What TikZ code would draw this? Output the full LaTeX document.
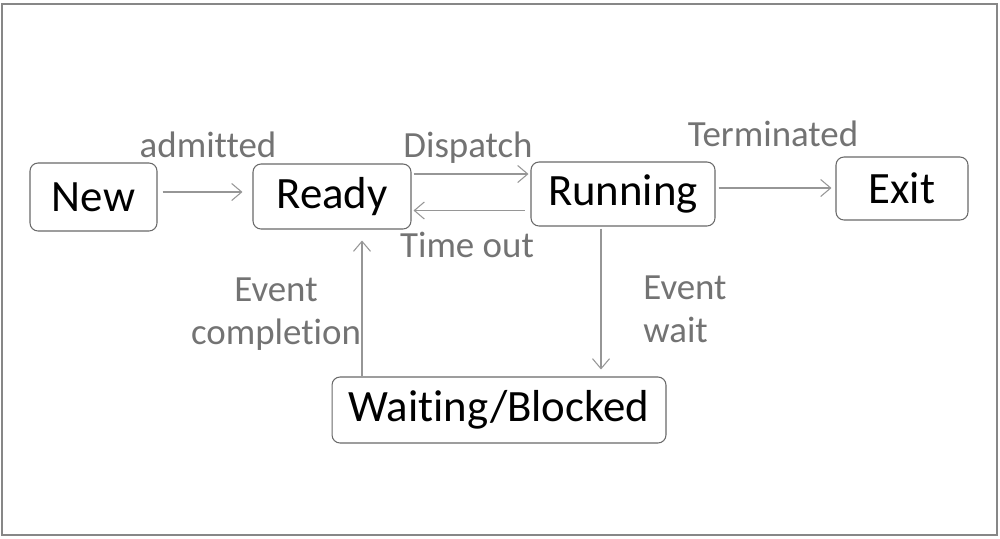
\documentclass[tikz,border=0pt]{standalone}
\usepackage{fontspec}
\setmainfont{Carlito}[Ligatures=NoCommon]
\usetikzlibrary{arrows.meta}

\definecolor{boxgray}{RGB}{105,105,105}
\definecolor{arrowgray}{RGB}{150,150,150}
\definecolor{labelgray}{RGB}{115,115,115}

\begin{document}
\begin{tikzpicture}[
    x=0.02cm, y=-0.02cm,
    state/.style={draw=boxgray, line width=0.6pt, rounded corners=0.16cm, align=center, inner sep=0pt, font=\fontsize{25.5}{29}\selectfont},
    lbl/.style={text=labelgray, align=center, inner sep=0pt, font=\fontsize{21}{24.5}\selectfont},
    arrow/.style={-{Straight Barb[length=2mm, width=3.4mm, line width=0.6pt]}, draw=arrowgray, line width=0.6pt}
]
\useasboundingbox (0,0) rectangle (1000,538);
\draw[boxgray!80, line width=1pt] (2,4) rectangle (997,535);

% states
\node[state, minimum width=2.54cm, minimum height=1.36cm] (new) at (93.5,197) {New};
\node[state, minimum width=3.16cm, minimum height=1.30cm] (ready) at (332,196.5) {Ready};
\node[state, minimum width=3.68cm, minimum height=1.28cm] (running) at (623,194) {Running};
\node[state, minimum width=2.64cm, minimum height=1.26cm] (exit) at (902,188.5) {Exit};
\node[state, minimum width=6.68cm, minimum height=1.32cm] (waiting) at (499,410) {Waiting/Blocked};

% transitions
\draw[arrow, shorten <=0.1cm, shorten >=0.2cm] ([yshift=0.1cm]new.east) -- ([yshift=0.1cm]new.east -| ready.west);
\draw[arrow, shorten <=0.04cm, shorten >=0.04cm] ([yshift=0.45cm]ready.east) -- ([yshift=0.45cm]ready.east -| running.west);
\draw[arrow, shorten <=0.12cm, shorten >=0.04cm] ([yshift=-0.28cm]ready.east -| running.west) -- ([yshift=-0.28cm]ready.east);
\draw[arrow, shorten <=0.06cm, shorten >=0.08cm] ([yshift=0.12cm]running.east) -- ([yshift=0.12cm]running.east -| exit.west);
\draw[arrow, shorten <=0.04cm, shorten >=0.14cm] ([xshift=-0.44cm]running.south) -- ([xshift=-0.44cm]running.south |- waiting.north);
\draw[arrow, shorten >=0.22cm] ([xshift=0.6cm]ready.south |- waiting.north) -- ([xshift=0.6cm]ready.south);

% labels
\node[lbl] (admitted) at (208,145) {admitted};
\node[lbl] (dispatch) at (468,148) {Dispatch};
\node[lbl] (timeout) at (467,245) {Time out};
\node[lbl] (terminated) at (773,134) {Terminated};
\node[lbl, align=left, anchor=west] (wait) at (643,309) {Event\\wait};
\node[lbl] (completion) at (276,314) {Event\\completion};
\end{tikzpicture}
\end{document}
